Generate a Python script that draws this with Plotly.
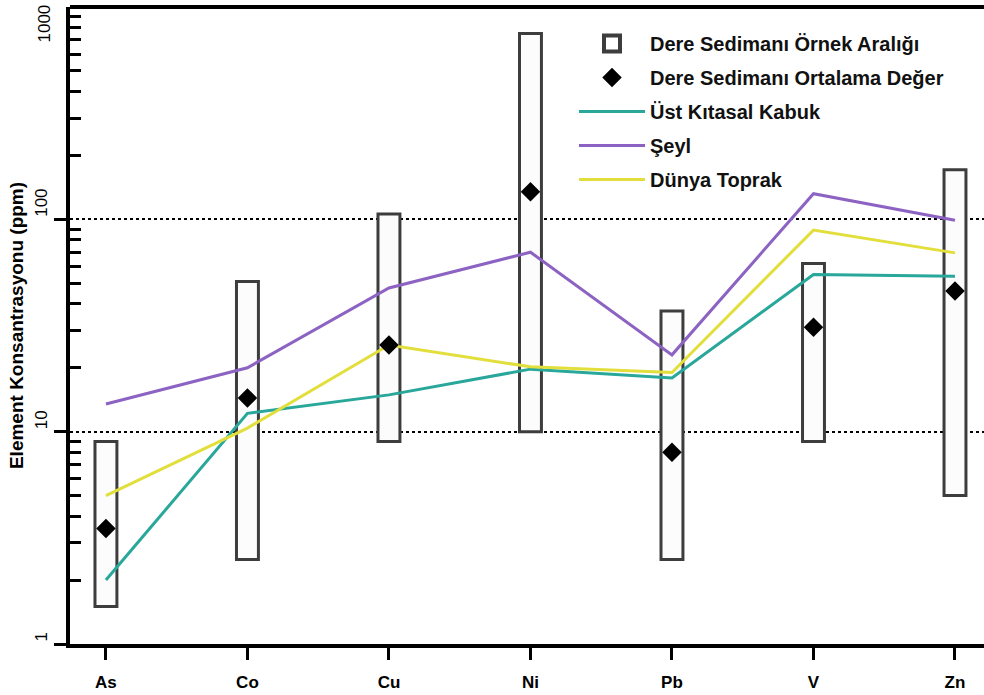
import plotly.graph_objects as go

# ---- data ----
elements = ["As", "Co", "Cu", "Ni", "Pb", "V", "Zn"]
range_low = [1.5, 2.5, 9, 10, 2.5, 9, 5]
range_high = [9, 51, 106, 750, 37, 62, 171]
sediment_mean = [3.5, 14.4, 25.6, 135, 8.0, 31, 46]
ust_kitasal_kabuk = [2.0, 12.2, 14.9, 19.7, 17.9, 55, 54]
seyl = [13.5, 20, 47.5, 70, 23, 132, 99]
dunya_toprak = [5.0, 10.4, 25.6, 20.2, 19, 89, 69.5]
y_tick_vals = [1, 10, 100]
y_tick_labels = ["1", "10", "100"]

FONT = "Liberation Sans, Arial, sans-serif"
BOX_COLOR = "#3d3d3d"
TEAL = "#28a79a"
PURPLE = "#8c62c2"
YELLOW = "#e2df3c"
FIG_SPACE = "\u2007"

fig = go.Figure()

# sample range boxes
fig.add_trace(go.Bar(
    x=elements,
    base=range_low,
    y=[h - l for h, l in zip(range_high, range_low)],
    width=0.155,
    marker=dict(color="#fcfcfc", line=dict(color=BOX_COLOR, width=3)),
    showlegend=False,
    name="Dere Sedimanı Örnek Aralığı",
))
# legend-only entry for the box
fig.add_trace(go.Scatter(
    x=[None], y=[None], mode="markers",
    marker=dict(symbol="square-open", size=16, color=BOX_COLOR, line=dict(width=4, color=BOX_COLOR)),
    name="Dere Sedimanı Örnek Aralığı", legendgroup="g1", legendrank=1,
))
fig.add_trace(go.Scatter(
    x=elements, y=ust_kitasal_kabuk, mode="lines",
    line=dict(color=TEAL, width=3), name="Üst Kıtasal Kabuk", legendgroup="g3", legendrank=3,
))
fig.add_trace(go.Scatter(
    x=elements, y=seyl, mode="lines",
    line=dict(color=PURPLE, width=3), name="Şeyl", legendgroup="g4", legendrank=4,
))
fig.add_trace(go.Scatter(
    x=elements, y=dunya_toprak, mode="lines",
    line=dict(color=YELLOW, width=3), name="Dünya Toprak", legendgroup="g5", legendrank=5,
))
fig.add_trace(go.Scatter(
    x=elements, y=sediment_mean, mode="markers",
    marker=dict(symbol="diamond", size=15, color="black"),
    name="Dere Sedimanı Ortalama Değer", legendgroup="g2", legendrank=2,
))

minor_vals = [m * 10 ** k for k in range(0, 3) for m in range(2, 10)]
# rotated labels sit above their tick (text starts at the tick)
y_tick_text = [FIG_SPACE * len(t) + t for t in y_tick_labels]

fig.update_layout(
    width=984, height=695,
    margin=dict(l=70, r=0, t=7, b=51, autoexpand=False),
    paper_bgcolor="white", plot_bgcolor="white",
    font=dict(family=FONT, color="black"),
    barmode="overlay",
    legend=dict(
        x=(574 - 70) / 914, y=1 - (24 - 7) / 637, xanchor="left", yanchor="top",
        font=dict(family=FONT, size=20, weight="bold", color="#111"),
        tracegroupgap=5, itemwidth=66, bgcolor="rgba(0,0,0,0)",
    ),
    xaxis=dict(
        type="category", range=[-0.254, 6.205],
        showline=True, linecolor="black", linewidth=4,
        ticks="outside", ticklen=12, tickwidth=3, tickcolor="black",
        tickfont=dict(family=FONT, size=17, weight="bold"),
        ticklabelstandoff=8,
        showgrid=False, zeroline=False, automargin=False,
    ),
    yaxis=dict(
        type="log", range=[0, 3],
        showline=True, linecolor="black", linewidth=4,
        ticks="outside", ticklen=12, tickwidth=3, tickcolor="black",
        tickvals=y_tick_vals, ticktext=y_tick_text, tickangle=-90,
        tickfont=dict(family=FONT, size=17),
        minor=dict(tickvals=minor_vals, ticks="inside", ticklen=11, tickwidth=3, tickcolor="black", showgrid=False),
        showgrid=True, gridcolor="black", gridwidth=2, griddash="dot",
        title=dict(text="Element Konsantrasyonu (ppm)", font=dict(family=FONT, size=19, weight="bold"), standoff=5),
        zeroline=False, automargin=False,
    ),
    shapes=[
        dict(type="line", xref="paper", yref="paper", x0=0, x1=1, y0=1, y1=1,
             line=dict(color="black", width=4)),
    ],
    annotations=[
        dict(text="1000", xref="paper", yref="paper", x=0, y=1, xanchor="right", yanchor="top",
             xshift=-15, yshift=4, textangle=-90, showarrow=False,
             font=dict(family=FONT, size=17, color="black")),
    ],
)

fig.write_html(
    "out.html",
    config={"displayModeBar": False},
    post_script="document.body.style.margin='0';document.body.style.overflow='hidden';",
)
